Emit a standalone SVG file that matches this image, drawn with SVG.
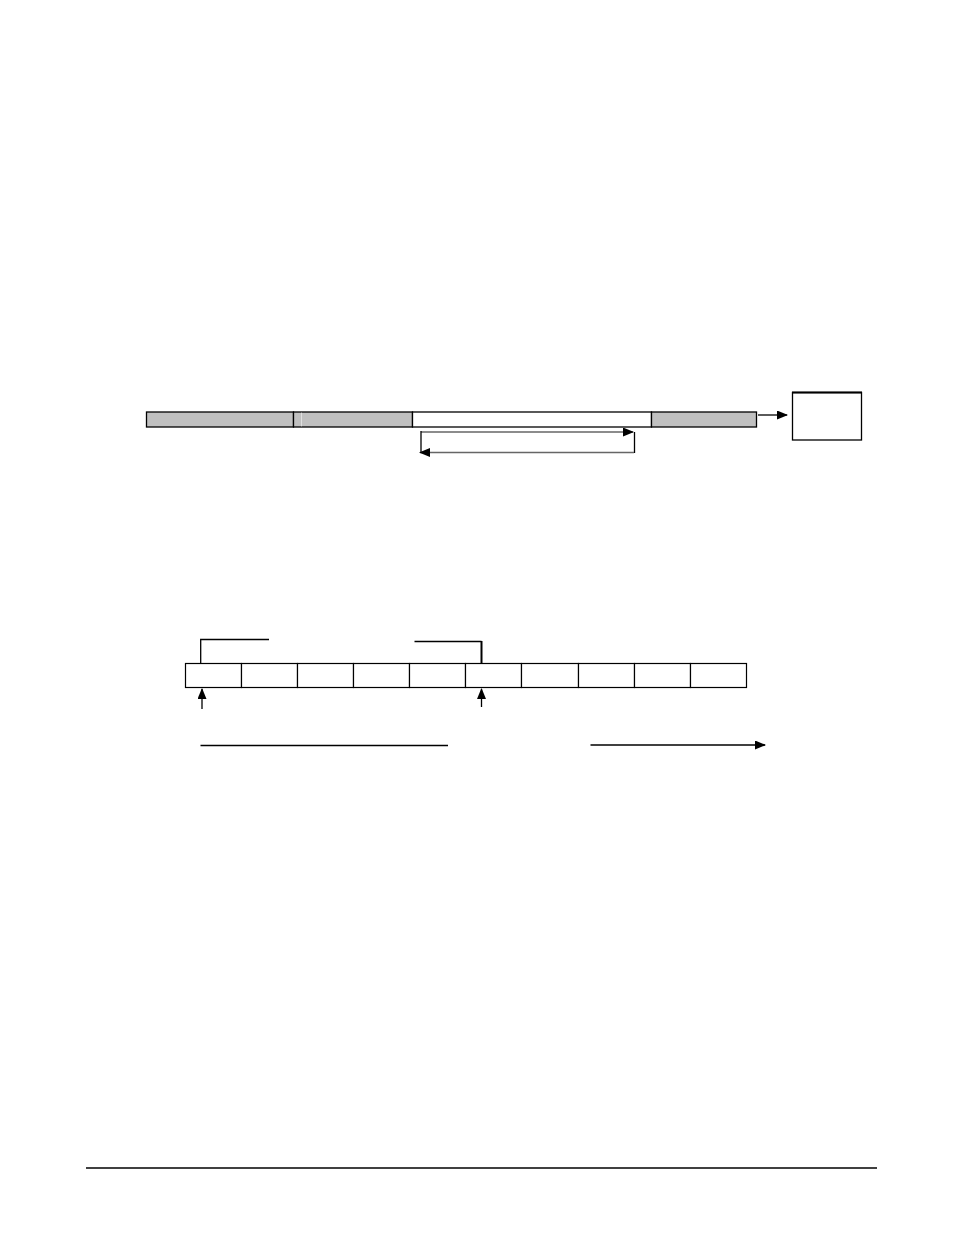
<svg xmlns="http://www.w3.org/2000/svg" width="954" height="1235" viewBox="0 0 954 1235">
<style>
.seg{stroke:#000;stroke-width:1.3}
.g{fill:#c0c0c0}
.w{fill:#fff}
.ln{stroke:#000;stroke-width:1.3;fill:none}
.gl{stroke:#666;stroke-width:1.6;fill:none}
.cell{fill:#fff;stroke:#000;stroke-width:1.2}
</style>
<defs>
<marker id="ah" markerWidth="11" markerHeight="9" refX="10" refY="4.5" orient="auto" markerUnits="userSpaceOnUse">
<path d="M0,0 L11,4.5 L0,9 Z" fill="#000"/>
</marker>
</defs>
<rect width="954" height="1235" fill="#fff"/>
<g id="bar">
<rect class="seg g" x="146.5" y="412" width="147" height="15"/>
<rect class="seg g" x="293.5" y="412" width="119" height="15"/>
<line x1="301.5" y1="412.7" x2="301.5" y2="426.3" stroke="#e0e0e0" stroke-width="1"/>
<rect class="seg w" x="412.5" y="412" width="239" height="15"/>
<rect class="seg g" x="651.5" y="412" width="105" height="15"/>
</g>
<g id="sink">
<rect x="792.5" y="392.5" width="69" height="47.5" fill="#fff" stroke="#000" stroke-width="1.3"/>
<line x1="792" y1="392.5" x2="862" y2="392.5" stroke="#000" stroke-width="2"/>
</g>
<g id="cells">
<rect class="cell" x="185.5" y="663.5" width="56" height="24"/>
<rect class="cell" x="241.5" y="663.5" width="56" height="24"/>
<rect class="cell" x="297.5" y="663.5" width="56" height="24"/>
<rect class="cell" x="353.5" y="663.5" width="56" height="24"/>
<rect class="cell" x="409.5" y="663.5" width="56" height="24"/>
<rect class="cell" x="465.5" y="663.5" width="56" height="24"/>
<rect class="cell" x="521.5" y="663.5" width="57" height="24"/>
<rect class="cell" x="578.5" y="663.5" width="56" height="24"/>
<rect class="cell" x="634.5" y="663.5" width="56" height="24"/>
<rect class="cell" x="690.5" y="663.5" width="56" height="24"/>
</g>
<g id="connectors">
<line class="ln" x1="758" y1="415" x2="787" y2="415" marker-end="url(#ah)"/>
<line class="gl" x1="421" y1="432" x2="633" y2="432" marker-end="url(#ah)"/>
<line class="ln" x1="421" y1="431" x2="421" y2="453"/>
<line class="ln" x1="634.5" y1="432" x2="634.5" y2="453"/>
<line class="gl" x1="634" y1="452.5" x2="420" y2="452.5" marker-end="url(#ah)"/>
<polyline class="ln" points="200.7,663 200.7,639.5 269,639.5"/>
<polyline class="ln" points="414.5,641.5 481.5,641.5"/>
<line x1="481.5" y1="641" x2="481.5" y2="664" stroke="#000" stroke-width="2"/>
<line class="ln" x1="202" y1="709" x2="202" y2="689" marker-end="url(#ah)"/>
<line class="ln" x1="481.5" y1="707" x2="481.5" y2="689" marker-end="url(#ah)"/>
<line class="ln" x1="200.5" y1="745.5" x2="448" y2="745.5"/>
<line class="ln" x1="590.5" y1="745" x2="765" y2="745" marker-end="url(#ah)"/>
<line class="ln" x1="86" y1="1168" x2="877" y2="1168"/>
</g>
</svg>
